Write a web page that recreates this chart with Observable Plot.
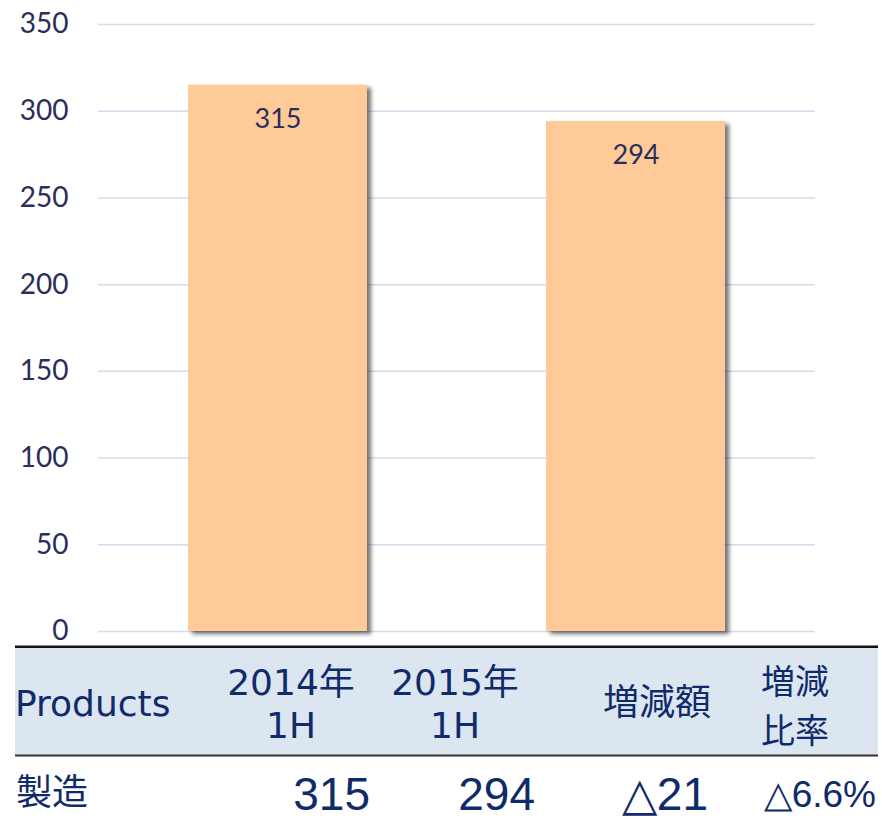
<!DOCTYPE html>
<html>
<head>
<meta charset="utf-8">
<script src="https://cdn.jsdelivr.net/npm/d3@7"></script>
<script src="https://cdn.jsdelivr.net/npm/@observablehq/plot@0.6"></script>
<style>
  html, body { margin: 0; padding: 0; background: #fff; }
  #chart { width: 882px; }
  #chart svg { display: block; }
</style>
</head>
<body>
<div id="chart"></div>
<script>
// ---- data ----
const periods = ["2014年1H", "2015年1H"];
const production = [315, 294];
const yTicks = [0, 50, 100, 150, 200, 250, 300, 350];

const headerLabels = ["Products", "2014年\n1H", "2015年\n1H", "増減額", "増減\n比率"];
const rowLabel = "製造";
const rowValues = ["315", "294", "△21", "△6.6%"];

const data = periods.map((p, i) => ({period: p, value: production[i]}));

// ---- chart ----
const chart = Plot.plot({
  width: 882,
  height: 645,
  marginTop: 24,
  marginBottom: 14,
  marginLeft: 98,
  marginRight: 67,
  style: {fontFamily: "Lato, 'Open Sans', sans-serif", fontSize: "28px", color: "#2b2d5b", background: "#fff"},
  x: {domain: periods, paddingInner: 0.5, paddingOuter: 0.25, axis: null},
  y: {domain: [0, 350]},
  marks: [
    Plot.gridY(yTicks, {stroke: "#d8d8ee", strokeOpacity: 1, strokeWidth: 1.5}),
    Plot.axisY(yTicks, {tickSize: 0, tickPadding: 30, label: null, fontSize: 28}),
    Plot.barY(data, {x: "period", y: "value", fill: "#fdca98"}),
    Plot.text(data, {x: "period", y: "value", text: d => String(d.value), dy: 34, fill: "#2b2d5b", fontSize: 27})
  ]
});
d3.select(chart).selectAll("g[aria-label='bar'] rect")
  .style("filter", "drop-shadow(4px 3px 2px rgba(0,0,0,0.55))");
document.getElementById("chart").appendChild(chart);

// ---- table below the chart ----
const navy = "#0f2b69";
const t = d3.select("#chart").append("svg")
  .attr("width", 882).attr("height", 180)
  .style("display", "block");

t.append("rect").attr("x", 15).attr("y", 0.5).attr("width", 863).attr("height", 2.6).attr("fill", "#111");
t.append("rect").attr("x", 15).attr("y", 3).attr("width", 863).attr("height", 107).attr("fill", "#dce6f1");
t.append("rect").attr("x", 15).attr("y", 109.5).attr("width", 863).attr("height", 2).attr("fill", "#333");

const hFont = "'DejaVu Sans', 'Noto Sans CJK JP', sans-serif";
const cjkFont = "'Noto Sans CJK JP', 'DejaVu Sans', sans-serif";

// header cells: x, anchor, baselines
const headerPos = [
  {x: 15, anchor: "start", ys: [71], font: hFont, size: 36},
  {x: 291, anchor: "middle", ys: [50, 93], font: hFont, size: 36},
  {x: 455, anchor: "middle", ys: [50, 93], font: hFont, size: 36},
  {x: 657, anchor: "middle", ys: [70], font: cjkFont, size: 36},
  {x: 795, anchor: "middle", ys: [48.5, 98], font: cjkFont, size: 34}
];
headerLabels.forEach((lbl, i) => {
  const p = headerPos[i];
  const txt = t.append("text")
    .attr("text-anchor", p.anchor)
    .attr("font-family", p.font)
    .attr("font-size", p.size)
    .attr("fill", navy);
  lbl.split("\n").forEach((line, j) => {
    txt.append("tspan").attr("x", p.x).attr("y", p.ys[j]).text(line);
  });
});

t.append("text")
  .attr("x", 16).attr("y", 160)
  .attr("font-family", cjkFont)
  .attr("font-size", 36)
  .attr("fill", navy)
  .text(rowLabel);

const rowPos = [
  {x: 370, y: 165, size: 46},
  {x: 535, y: 165, size: 46},
  {x: 708, y: 165, size: 46},
  {x: 876, y: 162, size: 37}
];
rowValues.forEach((v, i) => {
  const p = rowPos[i];
  t.append("text")
    .attr("x", p.x).attr("y", p.y)
    .attr("text-anchor", "end")
    .attr("font-family", "'Liberation Sans', Arial, sans-serif")
    .attr("font-size", p.size)
    .attr("fill", navy)
    .text(v);
});
</script>
</body>
</html>
